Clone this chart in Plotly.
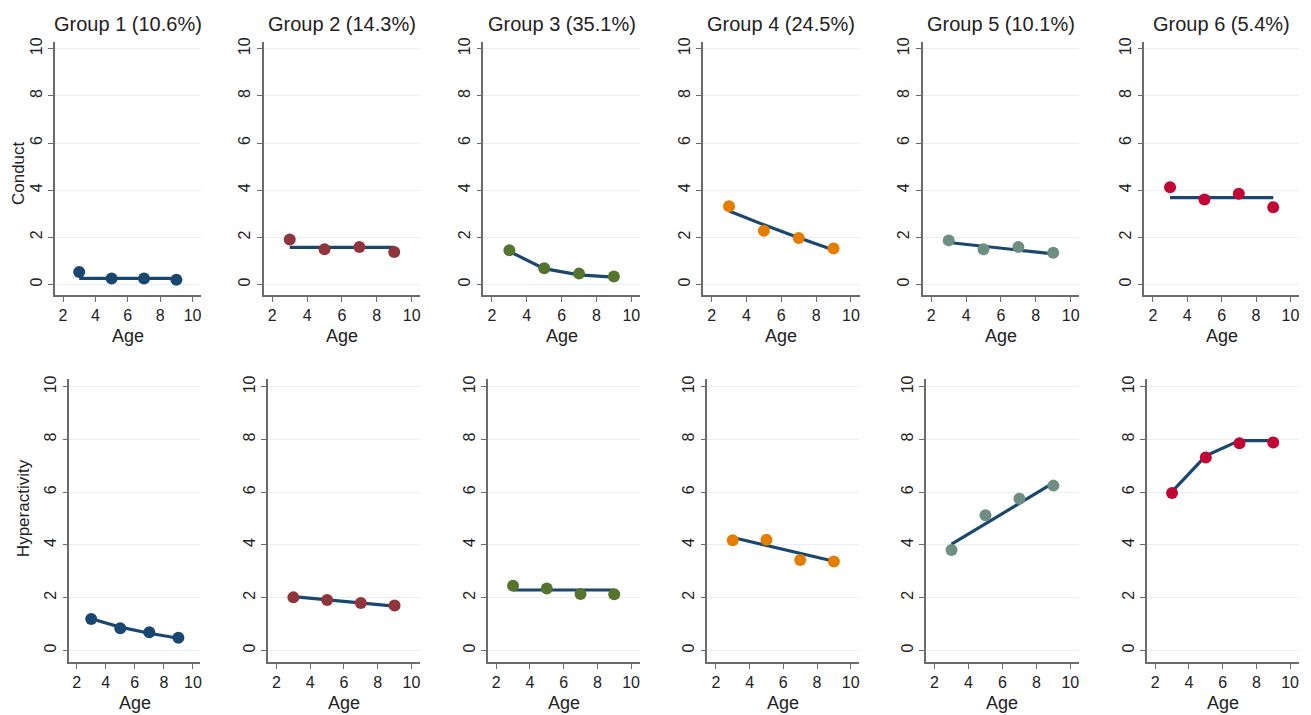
import plotly.graph_objects as go

W, H = 1311, 715

ages = [3, 5, 7, 9]
group_titles = ["Group 1 (10.6%)", "Group 2 (14.3%)", "Group 3 (35.1%)",
                "Group 4 (24.5%)", "Group 5 (10.1%)", "Group 6 (5.4%)"]
group_colors = ["#1a476f", "#90353b", "#55752f", "#e37e00", "#6e8e84", "#c10534"]
fit_color = "#1a476f"

conduct_obs = [
    [0.53, 0.25, 0.25, 0.20],
    [1.91, 1.49, 1.59, 1.38],
    [1.45, 0.69, 0.46, 0.34],
    [3.32, 2.28, 1.97, 1.53],
    [1.87, 1.49, 1.59, 1.35],
    [4.12, 3.60, 3.85, 3.28],
]
conduct_fit = [
    [0.26, 0.26, 0.26, 0.26],
    [1.57, 1.57, 1.57, 1.57],
    [1.40, 0.67, 0.41, 0.31],
    [3.12, 2.53, 1.98, 1.46],
    [1.78, 1.62, 1.46, 1.30],
    [3.68, 3.68, 3.68, 3.68],
]
hyper_obs = [
    [1.19, 0.84, 0.69, 0.48],
    [2.01, 1.91, 1.80, 1.70],
    [2.45, 2.35, 2.14, 2.13],
    [4.18, 4.20, 3.43, 3.37],
    [3.81, 5.13, 5.75, 6.25],
    [5.97, 7.32, 7.86, 7.89],
]
hyper_fit = [
    [1.20, 0.88, 0.65, 0.46],
    [2.04, 1.91, 1.80, 1.68],
    [2.29, 2.29, 2.29, 2.29],
    [4.28, 3.99, 3.69, 3.38],
    [4.03, 4.80, 5.58, 6.35],
    [6.02, 7.38, 7.96, 7.96],
]
row_titles = ["Conduct", "Hyperactivity"]
x_ticks = [2, 4, 6, 8, 10]
y_ticks = [0, 2, 4, 6, 8, 10]

# layout geometry (pixels)
top_x_px = [(55, 201), (264, 421), (484, 641), (704, 861), (924, 1081), (1146, 1301)]
bot_x_px = [(69.5, 200.5), (268.5, 420.5), (488.5, 640.5), (708.5, 860.5), (927.5, 1080.5), (1148.5, 1300.5)]
top_y_px = (37.9, 292.7)
bot_y_px = (377.0, 661.9)
x_range = [1.5, 10.5]
y_range = [-0.45, 10.3]

font = "Liberation Sans, Arial, sans-serif"
axis_col = "#6b6b6b"

fig = go.Figure()
layout = {}
annotations = []

def xd(px):
    return [px[0] / W, px[1] / W]

def yd(py):
    return [1 - py[1] / H, 1 - py[0] / H]

datasets = [(conduct_obs, conduct_fit, top_x_px, top_y_px),
            (hyper_obs, hyper_fit, bot_x_px, bot_y_px)]

idx = 0
for r, (obs, fit, xpx, ypx) in enumerate(datasets):
    for g in range(6):
        idx += 1
        xa = "x" if idx == 1 else f"x{idx}"
        ya = "y" if idx == 1 else f"y{idx}"
        fig.add_trace(go.Scatter(x=ages, y=fit[g], mode="lines", xaxis=xa, yaxis=ya,
                                 line=dict(color=fit_color, width=3.2), showlegend=False,
                                 hoverinfo="skip"))
        fig.add_trace(go.Scatter(x=ages, y=obs[g], mode="markers", xaxis=xa, yaxis=ya,
                                 marker=dict(color=group_colors[g], size=12, line=dict(width=0)),
                                 showlegend=False))
        xk = "xaxis" if idx == 1 else f"xaxis{idx}"
        yk = "yaxis" if idx == 1 else f"yaxis{idx}"
        layout[xk] = dict(domain=xd(xpx[g]), range=x_range, anchor=ya,
                          tickvals=x_ticks, ticks="outside", ticklen=5, tickwidth=1.2,
                          tickcolor=axis_col, showline=True, linecolor=axis_col, linewidth=1.5,
                          showgrid=False, zeroline=False,
                          tickfont=dict(family=font, size=16, color="#222"))
        layout[yk] = dict(domain=yd(ypx), range=y_range, anchor=xa,
                          tickvals=y_ticks, ticks="outside", ticklen=5, tickwidth=1.2,
                          tickcolor=axis_col, showline=True, linecolor=axis_col, linewidth=1.5,
                          showgrid=True, gridcolor="#e8f0f2", gridwidth=1, zeroline=False,
                          tickangle=-90,
                          tickfont=dict(family=font, size=16, color="#222"))
        cx = (xpx[g][0] + xpx[g][1]) / 2 / W
        age_y = 334 if r == 0 else 703
        annotations.append(dict(text="Age", x=cx, y=1 - age_y / H, xref="paper", yref="paper",
                                showarrow=False, xanchor="center", yanchor="middle",
                                font=dict(family=font, size=18, color="#222")))
        if r == 0:
            annotations.append(dict(text=group_titles[g], x=cx, y=1 - 20 / H, xref="paper",
                                    yref="paper", showarrow=False, xanchor="center",
                                    yanchor="middle",
                                    font=dict(family=font, size=20, color="#222")))

annotations.append(dict(text=row_titles[0], x=18 / W, y=1 - 170 / H, xref="paper", yref="paper",
                        showarrow=False, textangle=-90, xanchor="center", yanchor="middle",
                        font=dict(family=font, size=17, color="#222")))
annotations.append(dict(text=row_titles[1], x=23 / W, y=1 - 507 / H, xref="paper", yref="paper",
                        showarrow=False, textangle=-90, xanchor="center", yanchor="middle",
                        font=dict(family=font, size=17, color="#222")))

fig.update_layout(width=W, height=H, margin=dict(l=0, r=0, t=0, b=0),
                  paper_bgcolor="white", plot_bgcolor="white",
                  annotations=annotations, **layout)

fig.write_html("out.html", config={"displayModeBar": False},
               post_script="document.body.style.margin='0';document.body.style.padding='0';document.body.style.overflow='hidden';")
